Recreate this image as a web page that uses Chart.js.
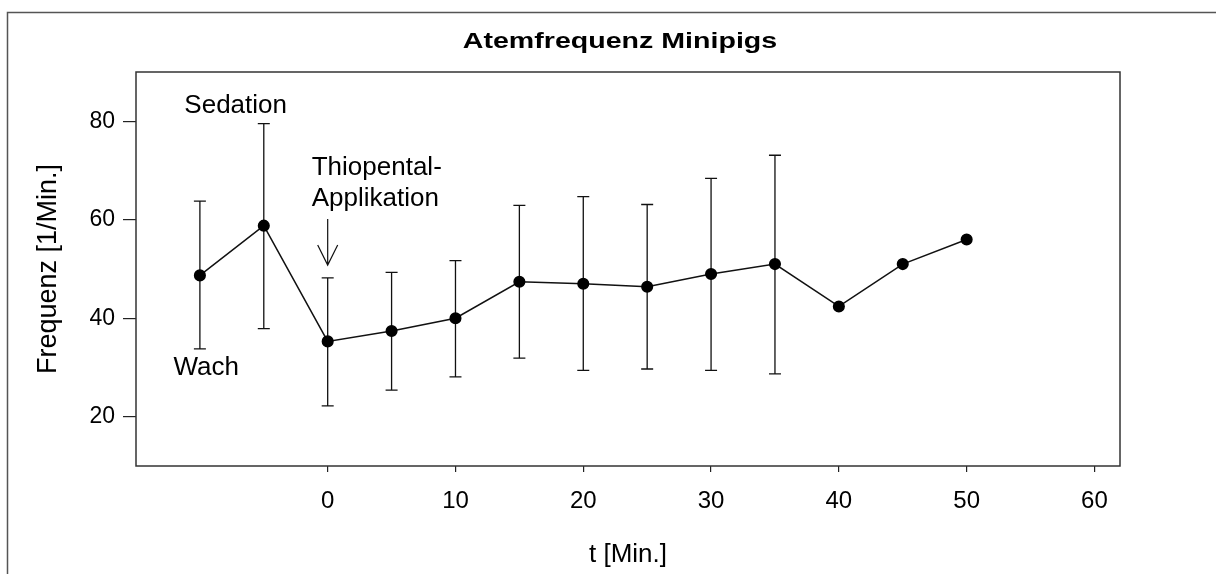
<!DOCTYPE html>
<html>
<head>
<meta charset="utf-8">
<script src="https://cdn.jsdelivr.net/npm/chart.js@4.4.1/dist/chart.umd.min.js"></script>
<style>
  html, body { margin: 0; padding: 0; background: #fff; }
  #wrap { width: 1216px; height: 574px; position: relative; }
</style>
</head>
<body>
<div id="wrap"><canvas id="c"></canvas></div>
<script>
// Atemfrequenz Minipigs — Mittelwert ± SD über die Zeit
var times   = [-10, -5, 0, 5, 10, 15, 20, 25, 30, 35, 40, 45, 50];
var means   = [48.7, 58.8, 35.3, 37.4, 40.0, 47.4, 47.0, 46.4, 49.0, 51.0, 42.4, 51.0, 56.0];
var errHigh = [63.8, 79.5, 48.2, 49.3, 51.7, 62.9, 64.7, 63.1, 68.4, 73.1, null, null, null];
var errLow  = [33.8, 37.9, 22.2, 25.4, 28.1, 31.9, 29.4, 29.7, 29.4, 28.7, null, null, null];
var xTicks  = [0, 10, 20, 30, 40, 50, 60];
var yTicks  = [20, 40, 60, 80];

var TITLE = 'Atemfrequenz Minipigs';
var X_TITLE = 't [Min.]';
var Y_TITLE = 'Frequenz [1/Min.]';

var FONT = '"Liberation Sans", Arial, sans-serif';
var INK = '#111';

// Beschriftungen im Diagramm (Datenkoordinaten)
var notes = [
  { text: 'Sedation',    x: -7.2,  y: 81.7,  align: 'center' },
  { text: 'Wach',        x: -9.5,  y: 28.5,  align: 'center' },
  { text: 'Thiopental-', x: -1.25, y: 69.1,  align: 'left' },
  { text: 'Applikation', x: -1.25, y: 62.85, align: 'left' }
];
var arrow = { x: 0, from: 60.15, to: 50.8 };

var decor = {
  id: 'decor',
  beforeDraw: function (chart) {
    var ctx = chart.ctx;
    ctx.save();
    ctx.fillStyle = '#fff';
    ctx.fillRect(0, 0, chart.width, chart.height);
    // äußerer Rahmen (nur oben/links sichtbar)
    ctx.strokeStyle = '#555';
    ctx.lineWidth = 1.5;
    ctx.beginPath();
    ctx.moveTo(7.5, chart.height + 2);
    ctx.lineTo(7.5, 12.5);
    ctx.lineTo(chart.width + 2, 12.5);
    ctx.stroke();
    // Titel (im Original breit gesetzt)
    ctx.fillStyle = '#000';
    ctx.font = 'bold 22.5px ' + FONT;
    ctx.textAlign = 'center';
    ctx.textBaseline = 'alphabetic';
    ctx.translate(620, 47.5);
    ctx.scale(1.27, 1);
    ctx.fillText(TITLE, 0, 0);
    ctx.restore();
  },
  beforeDatasetsDraw: function (chart) {
    var ctx = chart.ctx, xs = chart.scales.x, ys = chart.scales.y, a = chart.chartArea;
    ctx.save();
    // Plotrahmen
    ctx.strokeStyle = '#333';
    ctx.lineWidth = 1.5;
    ctx.strokeRect(a.left, a.top, a.right - a.left, a.bottom - a.top);
    // Fehlerbalken
    ctx.strokeStyle = INK;
    ctx.lineWidth = 1.3;
    for (var i = 0; i < times.length; i++) {
      if (errHigh[i] == null) continue;
      var px = xs.getPixelForValue(times[i]);
      var hi = ys.getPixelForValue(errHigh[i]);
      var lo = ys.getPixelForValue(errLow[i]);
      ctx.beginPath();
      ctx.moveTo(px, hi); ctx.lineTo(px, lo);
      ctx.moveTo(px - 6, hi); ctx.lineTo(px + 6, hi);
      ctx.moveTo(px - 6, lo); ctx.lineTo(px + 6, lo);
      ctx.stroke();
    }
    // Texte
    ctx.fillStyle = '#000';
    ctx.font = '26px ' + FONT;
    ctx.textBaseline = 'alphabetic';
    notes.forEach(function (n) {
      ctx.textAlign = n.align;
      ctx.fillText(n.text, xs.getPixelForValue(n.x), ys.getPixelForValue(n.y));
    });
    // Pfeil
    var ax = xs.getPixelForValue(arrow.x);
    var ay0 = ys.getPixelForValue(arrow.from), ay1 = ys.getPixelForValue(arrow.to);
    ctx.lineWidth = 1.2;
    ctx.beginPath();
    ctx.moveTo(ax, ay0); ctx.lineTo(ax, ay1);
    ctx.moveTo(ax - 10, ay1 - 20); ctx.lineTo(ax, ay1); ctx.lineTo(ax + 10, ay1 - 20);
    ctx.stroke();
    ctx.restore();
  }
};

new Chart(document.getElementById('c'), {
  type: 'line',
  data: {
    datasets: [{
      data: times.map(function (t, i) { return { x: t, y: means[i] }; }),
      borderColor: INK,
      borderWidth: 1.5,
      backgroundColor: '#000',
      pointBackgroundColor: '#000',
      pointBorderColor: '#000',
      pointRadius: 5.3,
      pointHoverRadius: 5.3,
      tension: 0,
      fill: false
    }]
  },
  options: {
    responsive: true,
    maintainAspectRatio: false,
    animation: false,
    events: [],
    layout: { padding: { top: 72, right: 96, left: 0, bottom: 0 } },
    plugins: { legend: { display: false }, title: { display: false }, tooltip: { enabled: false } },
    scales: {
      x: {
        type: 'linear',
        min: -15, max: 62,
        afterBuildTicks: function (s) { s.ticks = xTicks.map(function (v) { return { value: v }; }); },
        afterFit: function (s) { s.height = 108; },
        grid: { drawOnChartArea: false, drawTicks: true, tickLength: 6, color: '#222', lineWidth: 1.2 },
        border: { display: false },
        ticks: { color: '#000', font: { family: FONT, size: 24 }, padding: 15, maxRotation: 0 },
        title: { display: true, text: X_TITLE, color: '#000', font: { family: FONT, size: 26 }, padding: { top: 0, bottom: 4 } }
      },
      y: {
        type: 'linear',
        min: 10, max: 90,
        afterBuildTicks: function (s) { s.ticks = yTicks.map(function (v) { return { value: v }; }); },
        afterFit: function (s) { s.width = 136; },
        grid: { drawOnChartArea: false, drawTicks: true, tickLength: 13, color: '#222', lineWidth: 1.2 },
        border: { display: false },
        ticks: { color: '#000', font: { family: FONT, size: 23 }, padding: 8 },
        title: { display: true, text: Y_TITLE, color: '#000', font: { family: FONT, size: 27 }, padding: { top: 32, bottom: 0 } }
      }
    }
  },
  plugins: [decor]
});
</script>
</body>
</html>
